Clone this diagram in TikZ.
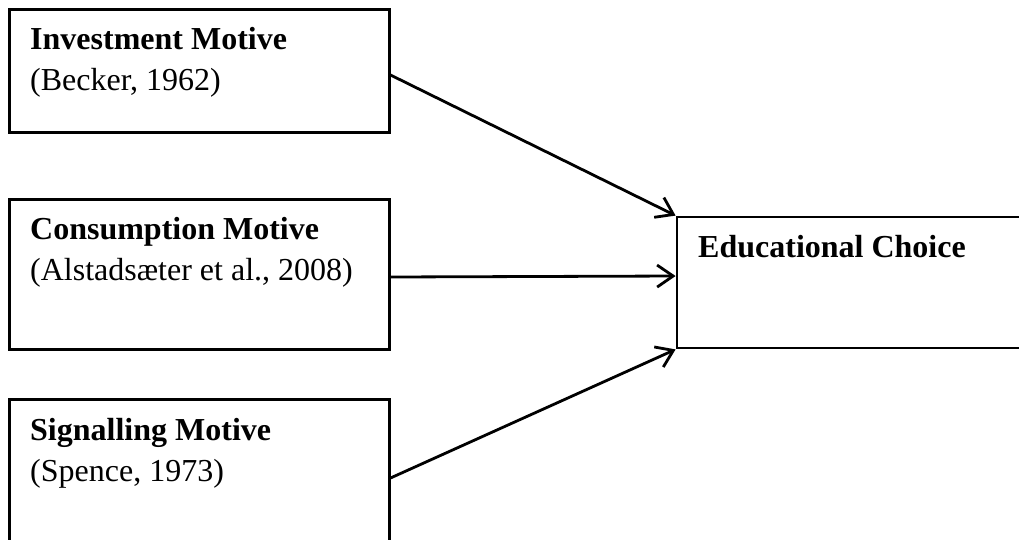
\documentclass[tikz,border=0pt]{standalone}
\usepackage{fontspec}
\setmainfont{Liberation Serif}
\usetikzlibrary{arrows.meta}
\begin{document}
\begin{tikzpicture}[x=1pt,y=-1pt,
  motivebox/.style={draw, line width=3pt, rectangle, inner sep=0pt, minimum width=380pt},
  choicebox/.style={draw, line width=2.8pt, rectangle, inner sep=0pt, minimum width=363pt, minimum height=131pt},
  linetext/.style={anchor=base west, inner sep=0pt, font=\fontsize{32}{41}\selectfont},
  arr/.style={line width=2.8pt, -{Straight Barb[length=16pt,width=22pt,line width=2.8pt]}}]
\useasboundingbox[fill=white] (0,0) rectangle (1019,539);
% boxes
\node[motivebox, minimum height=123pt] (inv) at (199,70.5) {};
\node[motivebox, minimum height=150pt] (cons) at (199,274) {};
\node[motivebox, minimum height=158pt] (sig) at (199,478) {};
\node[choicebox] (educ) at (858.5,282.5) {};
% texts
\node[linetext] (invA) at (30,49) {\textbf{Investment Motive}};
\node[linetext] (invB) at (30,90) {(Becker, 1962)};
\node[linetext] (consA) at (30,239) {\textbf{Consumption Motive}};
\node[linetext] (consB) at (30,280) {(Alstadsæter et al., 2008)};
\node[linetext] (sigA) at (30,440) {\textbf{Signalling Motive}};
\node[linetext] (sigB) at (30,481) {(Spence, 1973)};
\node[linetext] (educA) at (698,257) {\textbf{Educational Choice}};
% connectors
\draw[arr] ([yshift=-4.5pt]inv.east) -- (educ.north west);
\draw[arr] ([yshift=-3pt]cons.east) -- ([yshift=6.5pt]educ.west);
\draw[arr] (sig.east) -- (educ.south west);
\end{tikzpicture}
\end{document}
